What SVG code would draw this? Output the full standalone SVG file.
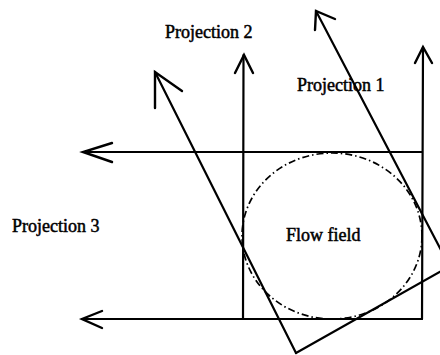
<svg xmlns="http://www.w3.org/2000/svg" width="440" height="355" viewBox="0 0 440 355">
<style>
.ln{fill:none;stroke:#000;stroke-width:2.2;stroke-linecap:round;stroke-linejoin:round}
.hd{fill:none;stroke:#000;stroke-width:2.4;stroke-linecap:round;stroke-linejoin:miter}
.dd{fill:none;stroke:#000;stroke-width:1.7;stroke-dasharray:7 3 1.5 3}
.lb{font-family:"Liberation Serif","Times New Roman",serif;font-size:18px;fill:#000;stroke:#000;stroke-width:0.5}
</style>
<rect width="440" height="355" fill="#fff"/>
<g id="flow-field">
<ellipse class="dd" cx="332" cy="236" rx="90" ry="83"/>
<text class="lb" x="286" y="241">Flow field</text>
</g>
<g id="connectors">
<line class="ln" x1="422" y1="152" x2="83" y2="152"/>
<line class="ln" x1="422" y1="319" x2="82" y2="319"/>
<line class="ln" x1="243" y1="319" x2="243.5" y2="55"/>
<line class="ln" x1="422" y1="319" x2="423" y2="47"/>
<line class="ln" x1="296" y1="353" x2="155" y2="72"/>
<line class="ln" x1="296" y1="353" x2="452" y2="265"/>
<line class="ln" x1="316" y1="11" x2="452" y2="271"/>
<polyline class="hd" points="112,143 83,152 112,162"/>
<polyline class="hd" points="102,311 82,319 102,328"/>
<polyline class="hd" points="235,73 244,55 253,73"/>
<polyline class="hd" points="415,63 423,47 432,63"/>
<polyline class="hd" points="155,108 155,72 182,91"/>
<polyline class="hd" points="315,30 316,11 335,19"/>
</g>
<g id="label-projection-2"><text class="lb" x="165" y="38">Projection 2</text></g>
<g id="label-projection-1"><text class="lb" x="297" y="91">Projection 1</text></g>
<g id="label-projection-3"><text class="lb" x="12" y="232">Projection 3</text></g>
</svg>
